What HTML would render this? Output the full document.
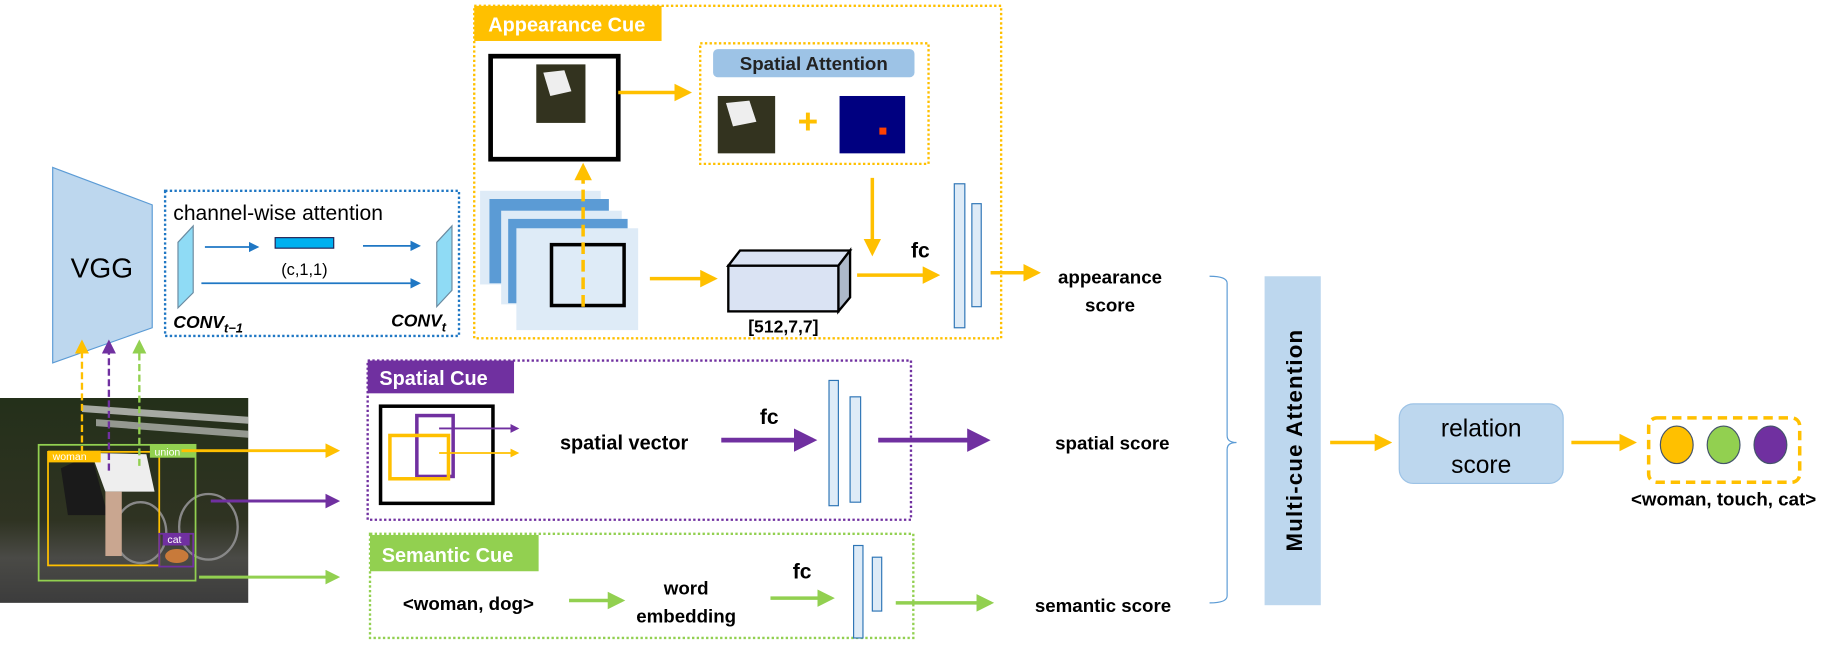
<!DOCTYPE html>
<html><head><meta charset="utf-8"><style>html,body{margin:0;padding:0;background:#fff;}svg{display:block}text{font-family:"Liberation Sans",sans-serif}</style></head>
<body>
<svg width="1836" height="645" viewBox="0 0 1568 551" preserveAspectRatio="none" xmlns="http://www.w3.org/2000/svg">
<defs>
<marker id="ay" markerWidth="5" markerHeight="5" refX="4" refY="2.5" orient="auto" markerUnits="strokeWidth"><path d="M0,0L5,2.5L0,5z" fill="#FFC000"/></marker>
<marker id="ap" markerWidth="5" markerHeight="5" refX="4" refY="2.5" orient="auto" markerUnits="strokeWidth"><path d="M0,0L5,2.5L0,5z" fill="#7030A0"/></marker>
<marker id="ag" markerWidth="5" markerHeight="5" refX="4" refY="2.5" orient="auto" markerUnits="strokeWidth"><path d="M0,0L5,2.5L0,5z" fill="#92D050"/></marker>
<marker id="ab" markerWidth="6" markerHeight="6" refX="5" refY="3" orient="auto" markerUnits="strokeWidth"><path d="M0,0L6,3L0,6z" fill="#1F77C4"/></marker>
<marker id="sy" markerWidth="6" markerHeight="6" refX="5" refY="3" orient="auto" markerUnits="strokeWidth"><path d="M0,0L6,3L0,6z" fill="#FFC000"/></marker>
<marker id="sp" markerWidth="6" markerHeight="6" refX="5" refY="3" orient="auto" markerUnits="strokeWidth"><path d="M0,0L6,3L0,6z" fill="#7030A0"/></marker>
<marker id="sg" markerWidth="6" markerHeight="6" refX="5" refY="3" orient="auto" markerUnits="strokeWidth"><path d="M0,0L6,3L0,6z" fill="#92D050"/></marker>
<linearGradient id="ph" x1="0" y1="0" x2="0" y2="1"><stop offset="0" stop-color="#24301a"/><stop offset="0.6" stop-color="#2f3322"/><stop offset="0.78" stop-color="#4a4a46"/><stop offset="1" stop-color="#3c3c3c"/></linearGradient>
</defs>

<!-- VGG -->
<polygon points="45,143 130,175 130,280 45,310" fill="#BDD7EE" stroke="#5B9BD5" stroke-width="1"/>
<text x="87" y="237" font-size="24" text-anchor="middle">VGG</text>

<!-- channel-wise attention -->
<rect x="141" y="163" width="251" height="124" fill="none" stroke="#1F77C4" stroke-width="2" stroke-dasharray="2,2"/>
<text x="148" y="188" font-size="18">channel-wise attention</text>
<polygon points="152,207 165,193 165,250 152,263" fill="#8FDBF5" stroke="#6a8aa0"/>
<polygon points="373,207 386,193 386,248 373,262" fill="#8FDBF5" stroke="#6a8aa0"/>
<rect x="235" y="203" width="50" height="9" fill="#00B0F0" stroke="#225"/>
<text x="260" y="235" font-size="14" text-anchor="middle">(c,1,1)</text>
<line x1="175" y1="211" x2="220" y2="211" stroke="#1F77C4" stroke-width="1.5" marker-end="url(#ab)"/>
<line x1="310" y1="210" x2="358" y2="210" stroke="#1F77C4" stroke-width="1.5" marker-end="url(#ab)"/>
<line x1="172" y1="242" x2="358" y2="242" stroke="#1F77C4" stroke-width="1.5" marker-end="url(#ab)"/>
<text x="148" y="280" font-size="15" font-style="italic" font-weight="bold" font-family="Liberation Serif">CONV<tspan font-size="11" dy="4">t−1</tspan></text>
<text x="334" y="279" font-size="15" font-style="italic" font-weight="bold" font-family="Liberation Serif">CONV<tspan font-size="11" dy="4">t</tspan></text>

<!-- Appearance cue -->
<rect x="405" y="5" width="450" height="284" fill="none" stroke="#FFC000" stroke-width="2" stroke-dasharray="2,2"/>
<rect x="405" y="5" width="160" height="30" fill="#FFC000"/>
<text x="417" y="27" font-size="17" font-weight="bold" fill="#fff">Appearance Cue</text>
<rect x="419" y="48" width="109" height="88" fill="#fff" stroke="#000" stroke-width="4"/>
<rect x="458" y="55" width="42" height="50" fill="#33331f"/>
<path d="M464,62 L482,60 L488,78 L470,82z" fill="#eee"/>
<line x1="528" y1="79" x2="588" y2="79" stroke="#FFC000" stroke-width="3" marker-end="url(#ay)"/>
<rect x="598" y="37" width="195" height="103" fill="none" stroke="#FFC000" stroke-width="2" stroke-dasharray="2,2"/>
<rect x="609" y="42" width="172" height="24" rx="4" fill="#9DC3E6"/>
<text x="695" y="60" font-size="16" font-weight="bold" text-anchor="middle" fill="#222">Spatial Attention</text>
<rect x="613" y="82" width="49" height="49" fill="#33331f"/>
<path d="M620,88 L640,86 L646,104 L626,108z" fill="#eee"/>
<text x="690" y="114" font-size="30" font-weight="bold" fill="#FFC000" text-anchor="middle">+</text>
<rect x="717" y="82" width="56" height="49" fill="#000080"/>
<rect x="751" y="109" width="6" height="6" fill="#ff4000"/>
<line x1="745" y1="152" x2="745" y2="216" stroke="#FFC000" stroke-width="3" marker-end="url(#ay)"/>
<rect x="410" y="163" width="103" height="80" fill="#DEEBF7"/>
<rect x="418" y="170" width="102" height="72" fill="#5B9BD5"/>
<rect x="428" y="180" width="103" height="80" fill="#DEEBF7"/>
<rect x="434" y="187" width="102" height="72" fill="#5B9BD5"/>
<rect x="441" y="195" width="104" height="87" fill="#DEEBF7"/>
<rect x="471" y="209" width="62" height="52" fill="none" stroke="#000" stroke-width="3"/>
<line x1="498" y1="262" x2="498" y2="142" stroke="#FFC000" stroke-width="3" stroke-dasharray="10,5" marker-end="url(#ay)"/>
<line x1="555" y1="238" x2="610" y2="238" stroke="#FFC000" stroke-width="3" marker-end="url(#ay)"/>
<polygon points="622,227 632,214 726,214 716,227" fill="#DAE3F3" stroke="#000" stroke-width="2"/>
<polygon points="716,227 726,214 726,254 716,266" fill="#ADB9CA" stroke="#000" stroke-width="2"/>
<rect x="622" y="227" width="94" height="39" fill="#DAE3F3" stroke="#000" stroke-width="2"/>
<text x="669" y="284" font-size="15" font-weight="bold" text-anchor="middle">[512,7,7]</text>
<line x1="732" y1="235" x2="800" y2="235" stroke="#FFC000" stroke-width="3" marker-end="url(#ay)"/>
<text x="786" y="220" font-size="18" font-weight="bold" text-anchor="middle">fc</text>
<rect x="815" y="157" width="9" height="123" fill="#DEEBF7" stroke="#2E75B6"/>
<rect x="830" y="174" width="8" height="88" fill="#DEEBF7" stroke="#2E75B6"/>
<line x1="846" y1="233" x2="886" y2="233" stroke="#FFC000" stroke-width="3" marker-end="url(#ay)"/>
<text x="948" y="242" font-size="16" font-weight="bold" text-anchor="middle">appearance</text>
<text x="948" y="266" font-size="16" font-weight="bold" text-anchor="middle">score</text>

<!-- brace -->
<path d="M1033,236 Q1048,236 1048,242 L1048,372 Q1048,378 1056,378 Q1048,378 1048,384 L1048,509 Q1048,515 1033,515" fill="none" stroke="#5B9BD5" stroke-width="1"/>

<!-- multi-cue -->
<rect x="1080" y="236" width="48" height="281" fill="#BDD7EE"/>
<text transform="translate(1112,376) rotate(-90)" font-size="19" font-weight="bold" text-anchor="middle" letter-spacing="1">Multi-cue Attention</text>
<line x1="1136" y1="378" x2="1186" y2="378" stroke="#FFC000" stroke-width="3" marker-end="url(#ay)"/>
<rect x="1195" y="345" width="140" height="68" rx="12" fill="#BDD7EE" stroke="#9DC3E6"/>
<text x="1265" y="373" font-size="21" text-anchor="middle">relation</text>
<text x="1265" y="404" font-size="21" text-anchor="middle">score</text>
<line x1="1342" y1="378" x2="1395" y2="378" stroke="#FFC000" stroke-width="3" marker-end="url(#ay)"/>
<rect x="1408" y="357" width="129" height="55" rx="7" fill="none" stroke="#FFC000" stroke-width="3" stroke-dasharray="8,5"/>
<ellipse cx="1432" cy="380" rx="14" ry="16" fill="#FFC000" stroke="#44546A"/>
<ellipse cx="1472" cy="380" rx="14" ry="16" fill="#92D050" stroke="#44546A"/>
<ellipse cx="1512" cy="380" rx="14" ry="16" fill="#7030A0" stroke="#44546A"/>
<text x="1472" y="432" font-size="16" font-weight="bold" text-anchor="middle">&lt;woman, touch, cat&gt;</text>

<!-- spatial cue -->
<rect x="314" y="308" width="464" height="136" fill="none" stroke="#7030A0" stroke-width="2" stroke-dasharray="2,2"/>
<rect x="314" y="308" width="125" height="28" fill="#7030A0"/>
<text x="324" y="329" font-size="17" font-weight="bold" fill="#fff">Spatial Cue</text>
<rect x="325" y="347" width="96" height="83" fill="none" stroke="#000" stroke-width="3"/>
<rect x="356" y="355" width="31" height="52" fill="none" stroke="#7030A0" stroke-width="3"/>
<rect x="333" y="372" width="50" height="37" fill="none" stroke="#FFC000" stroke-width="3"/>
<line x1="375" y1="366" x2="442" y2="366" stroke="#7030A0" stroke-width="1.5" marker-end="url(#ap)"/>
<line x1="375" y1="387" x2="442" y2="387" stroke="#FFC000" stroke-width="1.5" marker-end="url(#ay)"/>
<text x="533" y="384" font-size="17" font-weight="bold" text-anchor="middle">spatial vector</text>
<line x1="616" y1="376" x2="694" y2="376" stroke="#7030A0" stroke-width="4" marker-end="url(#ap)"/>
<text x="657" y="362" font-size="18" font-weight="bold" text-anchor="middle">fc</text>
<rect x="708" y="325" width="8" height="107" fill="#DEEBF7" stroke="#2E75B6"/>
<rect x="726" y="339" width="9" height="90" fill="#DEEBF7" stroke="#2E75B6"/>
<line x1="750" y1="376" x2="842" y2="376" stroke="#7030A0" stroke-width="4" marker-end="url(#ap)"/>
<text x="950" y="384" font-size="16" font-weight="bold" text-anchor="middle">spatial score</text>

<!-- semantic cue -->
<rect x="316" y="456" width="464" height="89" fill="none" stroke="#92D050" stroke-width="2" stroke-dasharray="2,2"/>
<rect x="316" y="457" width="144" height="31" fill="#92D050"/>
<text x="326" y="480" font-size="17" font-weight="bold" fill="#fff">Semantic Cue</text>
<text x="400" y="521" font-size="16" font-weight="bold" text-anchor="middle">&lt;woman, dog&gt;</text>
<line x1="486" y1="513" x2="531" y2="513" stroke="#92D050" stroke-width="3" marker-end="url(#ag)"/>
<text x="586" y="508" font-size="16" font-weight="bold" text-anchor="middle">word</text>
<text x="586" y="532" font-size="16" font-weight="bold" text-anchor="middle">embedding</text>
<line x1="658" y1="511" x2="710" y2="511" stroke="#92D050" stroke-width="3" marker-end="url(#ag)"/>
<text x="685" y="494" font-size="18" font-weight="bold" text-anchor="middle">fc</text>
<rect x="729" y="466" width="8" height="79" fill="#DEEBF7" stroke="#2E75B6"/>
<rect x="745" y="476" width="8" height="46" fill="#DEEBF7" stroke="#2E75B6"/>
<line x1="765" y1="515" x2="846" y2="515" stroke="#92D050" stroke-width="3" marker-end="url(#ag)"/>
<text x="942" y="523" font-size="16" font-weight="bold" text-anchor="middle">semantic score</text>

<!-- photo -->
<rect x="0" y="340" width="212" height="175" fill="url(#ph)"/>
<path d="M70,346 L212,356 L212,362 L70,352z" fill="#ddd" opacity="0.7"/>
<path d="M82,358 L212,368 L212,374 L82,364z" fill="#ddd" opacity="0.6"/>
<path d="M52,400 L78,388 L92,440 L58,440z" fill="#1a1a1a"/>
<path d="M78,387 L125,388 L132,420 L90,420z" fill="#eee"/>
<ellipse cx="178" cy="450" rx="25" ry="28" fill="none" stroke="#888" stroke-width="2"/>
<ellipse cx="120" cy="455" rx="22" ry="26" fill="none" stroke="#888" stroke-width="2"/>
<rect x="90" y="420" width="14" height="55" fill="#c9a690"/>
<ellipse cx="151" cy="475" rx="10" ry="6" fill="#c87a3a"/>
<rect x="33" y="380" width="134" height="116" fill="none" stroke="#92D050" stroke-width="1.5"/>
<rect x="41" y="386" width="95" height="97" fill="none" stroke="#FFC000" stroke-width="1.5"/>
<rect x="136" y="456" width="29" height="28" fill="none" stroke="#7030A0" stroke-width="1.5"/>
<rect x="41" y="385" width="45" height="10" fill="#FFC000"/>
<text x="45" y="393" font-size="9" fill="#fff">woman</text>
<rect x="128" y="380" width="39" height="11" fill="#92D050"/>
<text x="132" y="389" font-size="9" fill="#fff">union</text>
<rect x="139" y="456" width="23" height="10" fill="#7030A0"/>
<text x="143" y="464" font-size="9" fill="#fff">cat</text>
<line x1="70" y1="387" x2="70" y2="292" stroke="#FFC000" stroke-width="2" stroke-dasharray="6,3" marker-end="url(#sy)"/>
<line x1="93" y1="402" x2="93" y2="292" stroke="#7030A0" stroke-width="2" stroke-dasharray="6,3" marker-end="url(#sp)"/>
<line x1="119" y1="398" x2="119" y2="292" stroke="#92D050" stroke-width="2" stroke-dasharray="6,3" marker-end="url(#sg)"/>
<line x1="155" y1="385" x2="288" y2="385" stroke="#FFC000" stroke-width="2.5" marker-end="url(#ay)"/>
<line x1="180" y1="428" x2="288" y2="428" stroke="#7030A0" stroke-width="2.5" marker-end="url(#ap)"/>
<line x1="170" y1="493" x2="288" y2="493" stroke="#92D050" stroke-width="2.5" marker-end="url(#ag)"/>
</svg>
</body></html>
